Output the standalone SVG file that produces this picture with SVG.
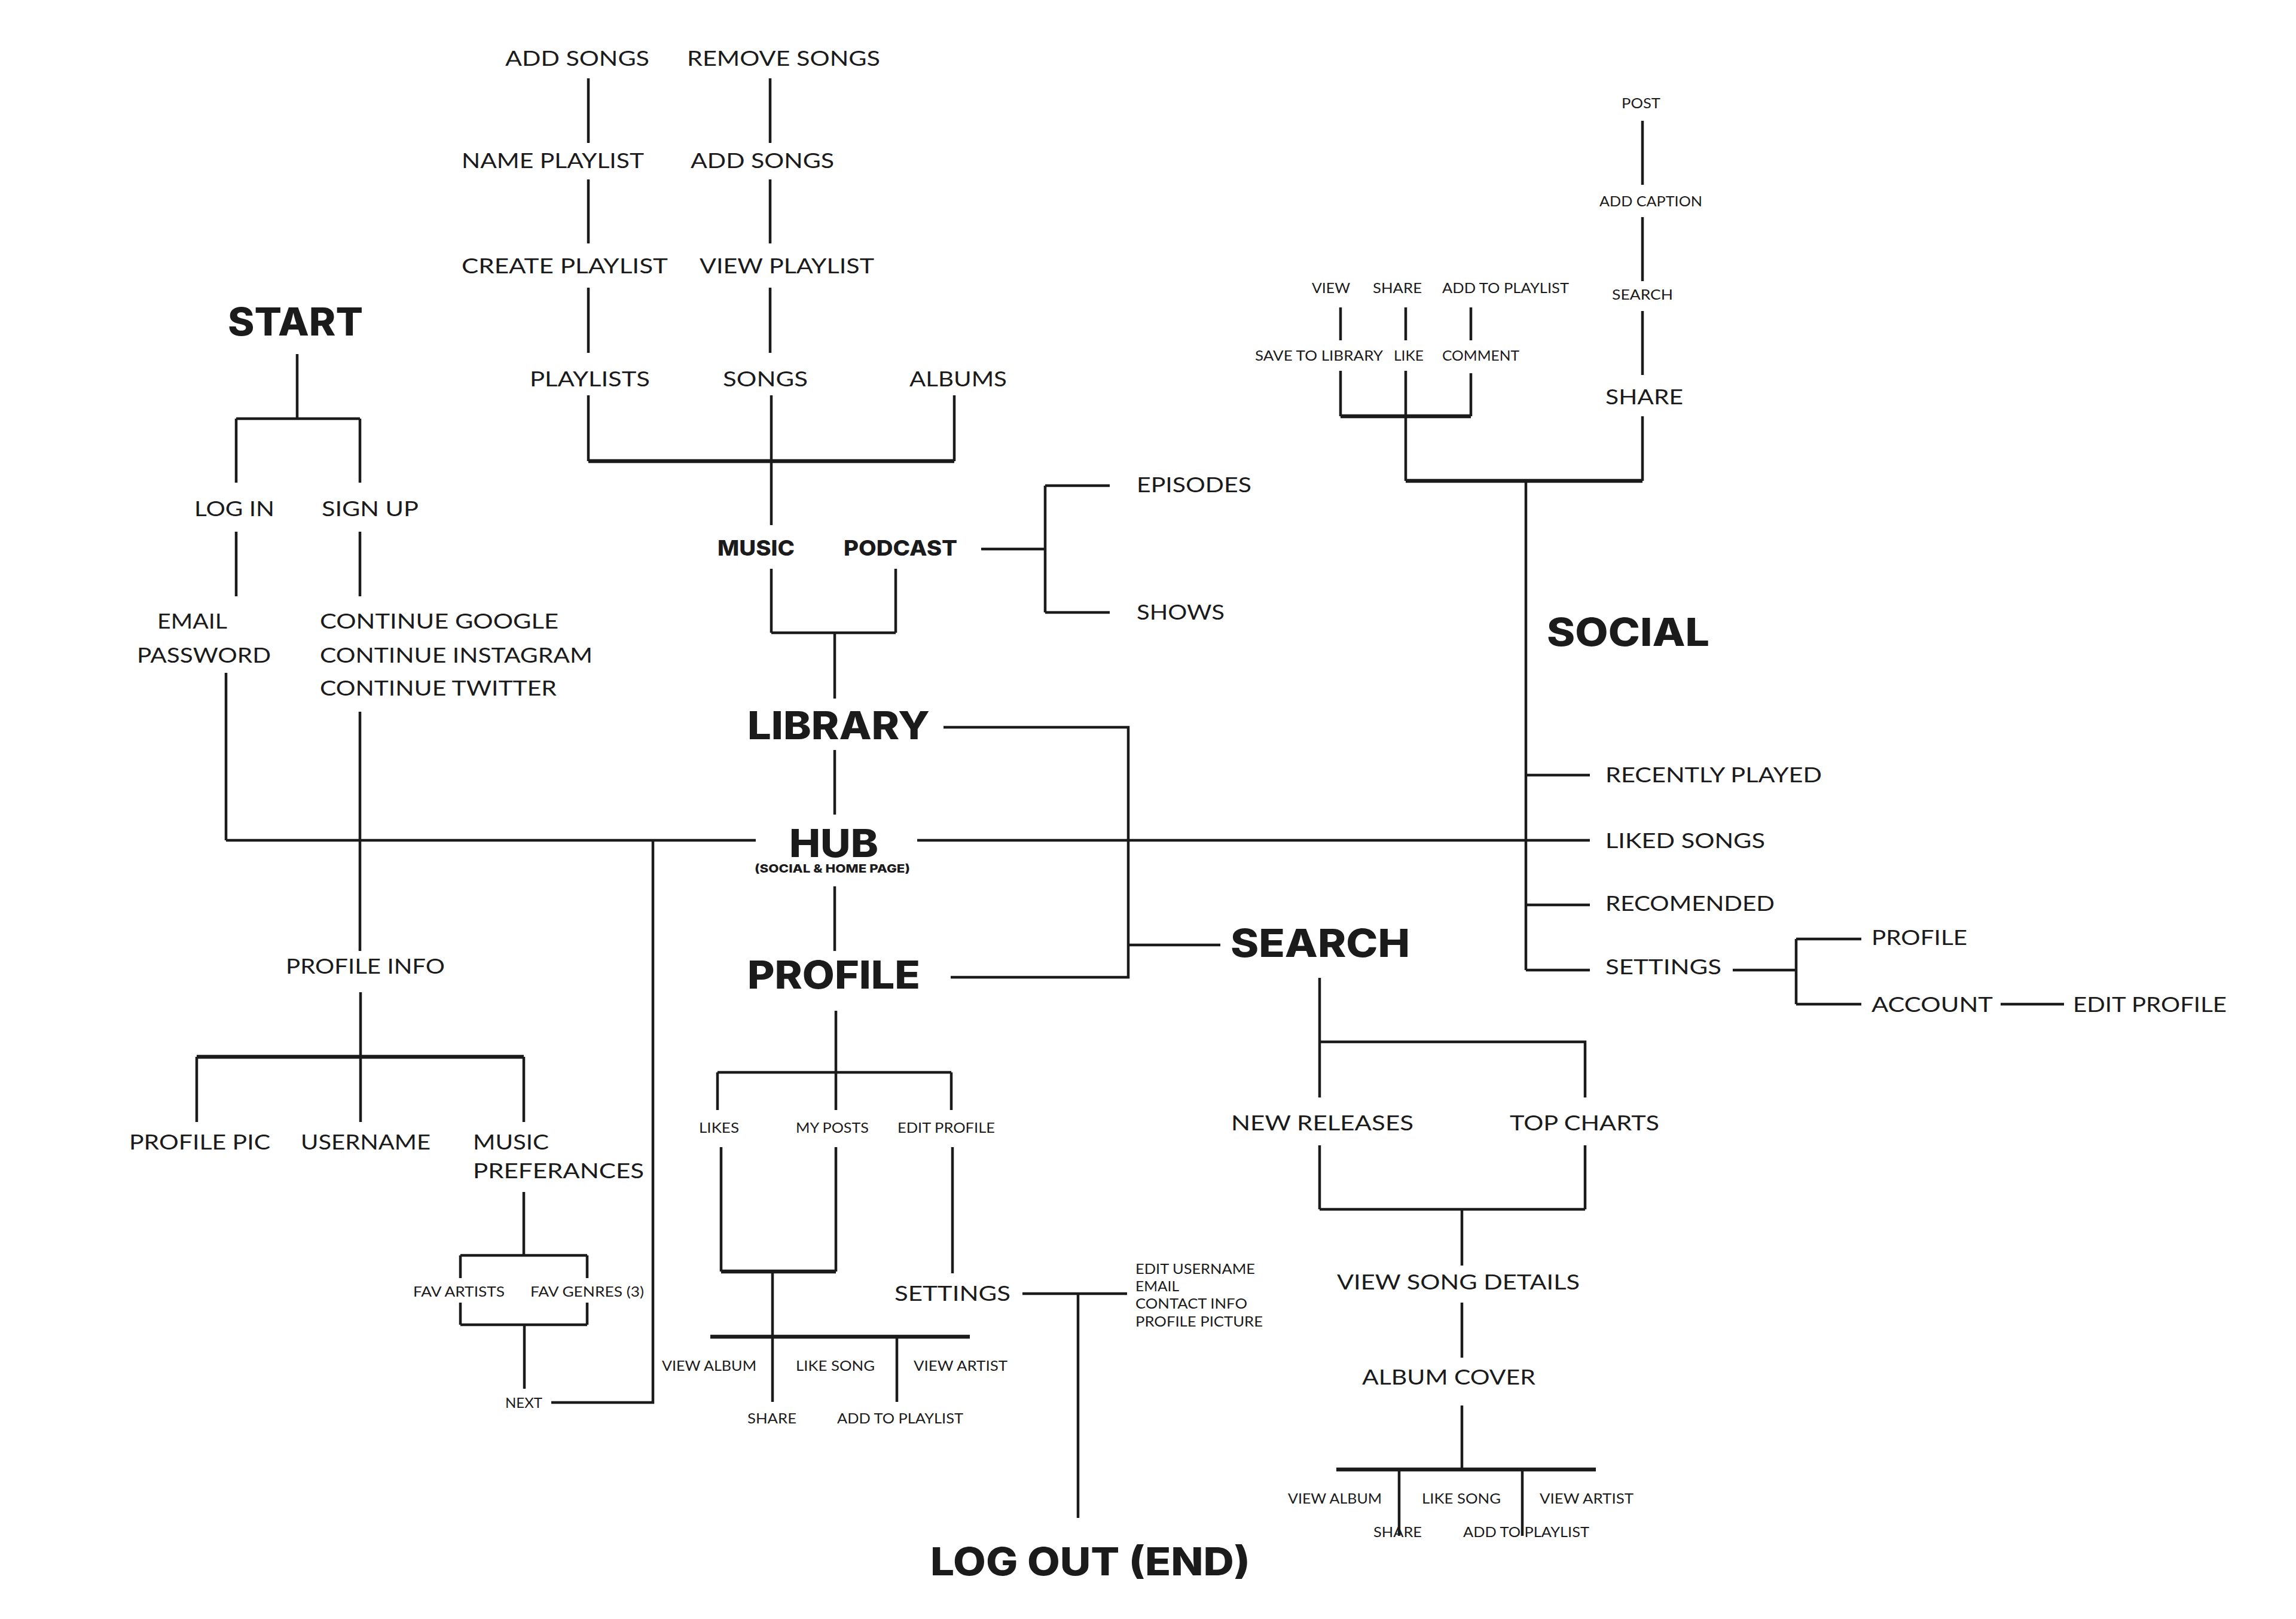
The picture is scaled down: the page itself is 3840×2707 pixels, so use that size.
<svg xmlns="http://www.w3.org/2000/svg" width="3840" height="2707" viewBox="0 0 3840 2707">
<style>
text{fill:#1c1b1b;font-family:Lato,"Open Sans","Liberation Sans",sans-serif}
.m{font-size:35px;font-weight:400}
.s{font-size:24px;font-weight:400}
.w{font-size:35px;font-weight:400}
.b{font-family:Inter,"Liberation Sans",sans-serif;font-weight:800;font-size:64px}
.bm{font-family:Inter,"Liberation Sans",sans-serif;font-weight:800;font-size:36px}
.bs{font-family:Inter,"Liberation Sans",sans-serif;font-weight:800;font-size:19px}
#connectors path{fill:none;stroke:#1c1b1b;stroke-width:4.5;stroke-linecap:butt}
#connectors path.t{stroke-width:6.5}
</style>
<rect width="3840" height="2707" fill="#ffffff"/>
<g id="connectors">
<path d="M984 131V239M984 300V407M984 481V590M984 661V771M1288 131V239M1288 300V407M1288 481V590M1290 661V878M1596 661V771"/>
<path class="t" d="M984 771H1596"/>
<path d="M1290 951V1058M1498 951V1058M1290 1058H1498M1396 1058V1168"/>
<path d="M1641 918H1748M1748 812V1024M1748 812H1856M1748 1024H1856"/>
<path d="M1396 1254V1362M1396 1482V1590"/>
<path d="M1578 1216H1887V1634H1590M1887 1580H2041"/>
<path d="M378 1405H1264M1534 1405H2659"/>
<path d="M497 592V700M395 700H602M395 700V807M602 700V807M395 889V997M602 889V997M378 1125V1405M602 1190V1590"/>
<path d="M603 1659V1876M329 1767V1876M876 1767V1876"/>
<path class="t" d="M329 1767H876"/>
<path d="M876 1993V2099M770 2099H982M770 2099V2137M982 2099V2137M770 2178V2215M982 2178V2215M770 2215H982M877 2215V2322M922 2345H1092V1405"/>
<path d="M1398 1690V1793M1200 1793H1591M1200 1793V1856M1398 1793V1856M1591 1793V1856"/>
<path d="M1206 1918V2126M1398 1918V2126M1593 1918V2129M1292 2126V2344M1500 2235V2344"/>
<path class="t" d="M1206 2126H1398M1188 2235H1622"/>
<path d="M1710 2163H1885M1803 2163V2538"/>
<path d="M2747 202V309M2747 363V470M2747 520V627M2747 696V804"/>
<path class="t" d="M2351 804H2747M2242 696H2460"/>
<path d="M2242 514V569M2351 514V569M2460 514V569M2242 620V696M2351 620V804M2460 624V696"/>
<path d="M2552 804V1622M2552 1296H2659M2552 1513H2659M2552 1622H2659"/>
<path d="M2898 1622H3004M3004 1570V1679M3004 1570H3113M3004 1679H3113M3346 1679H3452"/>
<path d="M2207 1635V1835M2207 1742H2651V1835M2207 1915V2022M2651 1915V2022M2207 2022H2651M2445 2022V2116M2445 2178V2270M2445 2350V2457"/>
<path class="t" d="M2235 2457H2669"/>
<path d="M2340 2457V2568M2546 2457V2568"/>
</g>
<g id="start"><text class="b" x="381" y="561" font-size="67" textLength="226" lengthAdjust="spacingAndGlyphs">START</text></g>
<g id="log-in"><text class="m" x="325" y="863" textLength="134" lengthAdjust="spacingAndGlyphs">LOG IN</text></g>
<g id="sign-up"><text class="m" x="538" y="863" textLength="162" lengthAdjust="spacingAndGlyphs">SIGN UP</text></g>
<g id="email-password"><text class="m" x="263" y="1051" textLength="117" lengthAdjust="spacingAndGlyphs">EMAIL</text><text class="m" x="229" y="1108" textLength="224" lengthAdjust="spacingAndGlyphs">PASSWORD</text></g>
<g id="continue"><text class="m" x="535" y="1051" textLength="399" lengthAdjust="spacingAndGlyphs">CONTINUE GOOGLE</text><text class="m" x="535" y="1108" textLength="456" lengthAdjust="spacingAndGlyphs">CONTINUE INSTAGRAM</text><text class="m" x="535" y="1163" textLength="396" lengthAdjust="spacingAndGlyphs">CONTINUE TWITTER</text></g>
<g id="profile-info"><text class="m" x="478" y="1628" textLength="266" lengthAdjust="spacingAndGlyphs">PROFILE INFO</text></g>
<g id="profile-pic"><text class="m" x="216" y="1922" textLength="236" lengthAdjust="spacingAndGlyphs">PROFILE PIC</text></g>
<g id="username"><text class="m" x="503" y="1922" textLength="217" lengthAdjust="spacingAndGlyphs">USERNAME</text></g>
<g id="music-preferances"><text class="m" x="791" y="1922" textLength="127" lengthAdjust="spacingAndGlyphs">MUSIC</text><text class="m" x="791" y="1970" textLength="286" lengthAdjust="spacingAndGlyphs">PREFERANCES</text></g>
<g id="fav-artists"><text class="s" x="691" y="2168" textLength="153" lengthAdjust="spacingAndGlyphs">FAV ARTISTS</text></g>
<g id="fav-genres"><text class="s" x="887" y="2168" textLength="190" lengthAdjust="spacingAndGlyphs">FAV GENRES (3)</text></g>
<g id="next"><text class="s" x="845" y="2354" textLength="62" lengthAdjust="spacingAndGlyphs">NEXT</text></g>
<g id="add-songs-1"><text class="m" x="845" y="110" textLength="241" lengthAdjust="spacingAndGlyphs">ADD SONGS</text></g>
<g id="remove-songs"><text class="m" x="1149" y="110" textLength="323" lengthAdjust="spacingAndGlyphs">REMOVE SONGS</text></g>
<g id="name-playlist"><text class="m" x="772" y="281" textLength="305" lengthAdjust="spacingAndGlyphs">NAME PLAYLIST</text></g>
<g id="add-songs-2"><text class="m" x="1155" y="281" textLength="240" lengthAdjust="spacingAndGlyphs">ADD SONGS</text></g>
<g id="create-playlist"><text class="m" x="772" y="457" textLength="345" lengthAdjust="spacingAndGlyphs">CREATE PLAYLIST</text></g>
<g id="view-playlist"><text class="m" x="1170" y="457" textLength="292" lengthAdjust="spacingAndGlyphs">VIEW PLAYLIST</text></g>
<g id="playlists"><text class="m" x="886" y="646" textLength="201" lengthAdjust="spacingAndGlyphs">PLAYLISTS</text></g>
<g id="songs"><text class="m" x="1209" y="646" textLength="142" lengthAdjust="spacingAndGlyphs">SONGS</text></g>
<g id="albums"><text class="m" x="1521" y="646" textLength="163" lengthAdjust="spacingAndGlyphs">ALBUMS</text></g>
<g id="music"><text class="bm" x="1200" y="929" textLength="129" lengthAdjust="spacingAndGlyphs">MUSIC</text></g>
<g id="podcast"><text class="bm" x="1411" y="929" textLength="190" lengthAdjust="spacingAndGlyphs">PODCAST</text></g>
<g id="episodes"><text class="m" x="1901" y="823" textLength="192" lengthAdjust="spacingAndGlyphs">EPISODES</text></g>
<g id="shows"><text class="m" x="1901" y="1036" textLength="147" lengthAdjust="spacingAndGlyphs">SHOWS</text></g>
<g id="library"><text class="b" x="1250" y="1236" textLength="305" lengthAdjust="spacingAndGlyphs">LIBRARY</text></g>
<g id="hub"><text class="b" x="1320" y="1433" textLength="149" lengthAdjust="spacingAndGlyphs">HUB</text><text class="bs" x="1262" y="1459" textLength="260" lengthAdjust="spacingAndGlyphs">(SOCIAL &amp; HOME PAGE)</text></g>
<g id="profile"><text class="b" x="1250" y="1653" textLength="289" lengthAdjust="spacingAndGlyphs">PROFILE</text></g>
<g id="likes"><text class="s" x="1169" y="1894" textLength="67" lengthAdjust="spacingAndGlyphs">LIKES</text></g>
<g id="my-posts"><text class="s" x="1331" y="1894" textLength="122" lengthAdjust="spacingAndGlyphs">MY POSTS</text></g>
<g id="edit-profile-1"><text class="s" x="1501" y="1894" textLength="163" lengthAdjust="spacingAndGlyphs">EDIT PROFILE</text></g>
<g id="settings-profile"><text class="m" x="1496" y="2175" textLength="194" lengthAdjust="spacingAndGlyphs">SETTINGS</text></g>
<g id="settings-options"><text class="s" x="1899" y="2130" textLength="200" lengthAdjust="spacingAndGlyphs">EDIT USERNAME</text><text class="s" x="1899" y="2159" textLength="73" lengthAdjust="spacingAndGlyphs">EMAIL</text><text class="s" x="1899" y="2188" textLength="187" lengthAdjust="spacingAndGlyphs">CONTACT INFO</text><text class="s" x="1899" y="2218" textLength="213" lengthAdjust="spacingAndGlyphs">PROFILE PICTURE</text></g>
<g id="view-album-1"><text class="s" x="1107" y="2292" textLength="158" lengthAdjust="spacingAndGlyphs">VIEW ALBUM</text></g>
<g id="like-song-1"><text class="s" x="1331" y="2292" textLength="132" lengthAdjust="spacingAndGlyphs">LIKE SONG</text></g>
<g id="view-artist-1"><text class="s" x="1528" y="2292" textLength="157" lengthAdjust="spacingAndGlyphs">VIEW ARTIST</text></g>
<g id="share-1"><text class="s" x="1250" y="2380" textLength="82" lengthAdjust="spacingAndGlyphs">SHARE</text></g>
<g id="add-to-playlist-1"><text class="s" x="1400" y="2380" textLength="211" lengthAdjust="spacingAndGlyphs">ADD TO PLAYLIST</text></g>
<g id="log-out"><text class="b" x="1556" y="2634" textLength="535" lengthAdjust="spacingAndGlyphs">LOG OUT (END)</text></g>
<g id="search"><text class="b" x="2058" y="1600" textLength="300" lengthAdjust="spacingAndGlyphs">SEARCH</text></g>
<g id="new-releases"><text class="w" x="2059" y="1890" textLength="305" lengthAdjust="spacingAndGlyphs">NEW RELEASES</text></g>
<g id="top-charts"><text class="w" x="2525" y="1890" textLength="250" lengthAdjust="spacingAndGlyphs">TOP CHARTS</text></g>
<g id="view-song-details"><text class="w" x="2236" y="2156" textLength="406" lengthAdjust="spacingAndGlyphs">VIEW SONG DETAILS</text></g>
<g id="album-cover"><text class="w" x="2278" y="2315" textLength="290" lengthAdjust="spacingAndGlyphs">ALBUM COVER</text></g>
<g id="view-album-2"><text class="s" x="2154" y="2514" textLength="157" lengthAdjust="spacingAndGlyphs">VIEW ALBUM</text></g>
<g id="like-song-2"><text class="s" x="2378" y="2514" textLength="132" lengthAdjust="spacingAndGlyphs">LIKE SONG</text></g>
<g id="view-artist-2"><text class="s" x="2575" y="2514" textLength="157" lengthAdjust="spacingAndGlyphs">VIEW ARTIST</text></g>
<g id="share-2"><text class="s" x="2297" y="2570" textLength="81" lengthAdjust="spacingAndGlyphs">SHARE</text></g>
<g id="add-to-playlist-2"><text class="s" x="2447" y="2570" textLength="211" lengthAdjust="spacingAndGlyphs">ADD TO PLAYLIST</text></g>
<g id="post"><text class="s" x="2712" y="181" textLength="65" lengthAdjust="spacingAndGlyphs">POST</text></g>
<g id="add-caption"><text class="s" x="2675" y="345" textLength="172" lengthAdjust="spacingAndGlyphs">ADD CAPTION</text></g>
<g id="search-small"><text class="s" x="2696" y="501" textLength="102" lengthAdjust="spacingAndGlyphs">SEARCH</text></g>
<g id="share-social"><text class="m" x="2685" y="676" textLength="130" lengthAdjust="spacingAndGlyphs">SHARE</text></g>
<g id="view"><text class="s" x="2194" y="490" textLength="64" lengthAdjust="spacingAndGlyphs">VIEW</text></g>
<g id="share-3"><text class="s" x="2296" y="490" textLength="82" lengthAdjust="spacingAndGlyphs">SHARE</text></g>
<g id="add-to-playlist-3"><text class="s" x="2412" y="490" textLength="212" lengthAdjust="spacingAndGlyphs">ADD TO PLAYLIST</text></g>
<g id="save-to-library"><text class="s" x="2099" y="603" textLength="214" lengthAdjust="spacingAndGlyphs">SAVE TO LIBRARY</text></g>
<g id="like"><text class="s" x="2331" y="603" textLength="50" lengthAdjust="spacingAndGlyphs">LIKE</text></g>
<g id="comment"><text class="s" x="2412" y="603" textLength="129" lengthAdjust="spacingAndGlyphs">COMMENT</text></g>
<g id="social"><text class="b" x="2587" y="1080" font-size="66" textLength="272" lengthAdjust="spacingAndGlyphs">SOCIAL</text></g>
<g id="recently-played"><text class="m" x="2685" y="1308" textLength="362" lengthAdjust="spacingAndGlyphs">RECENTLY PLAYED</text></g>
<g id="liked-songs"><text class="m" x="2685" y="1418" textLength="267" lengthAdjust="spacingAndGlyphs">LIKED SONGS</text></g>
<g id="recomended"><text class="m" x="2685" y="1523" textLength="283" lengthAdjust="spacingAndGlyphs">RECOMENDED</text></g>
<g id="settings-social"><text class="m" x="2685" y="1629" textLength="194" lengthAdjust="spacingAndGlyphs">SETTINGS</text></g>
<g id="profile-social"><text class="m" x="3130" y="1580" textLength="160" lengthAdjust="spacingAndGlyphs">PROFILE</text></g>
<g id="account"><text class="m" x="3130" y="1692" textLength="203" lengthAdjust="spacingAndGlyphs">ACCOUNT</text></g>
<g id="edit-profile-2"><text class="m" x="3467" y="1692" textLength="257" lengthAdjust="spacingAndGlyphs">EDIT PROFILE</text></g>
</svg>
